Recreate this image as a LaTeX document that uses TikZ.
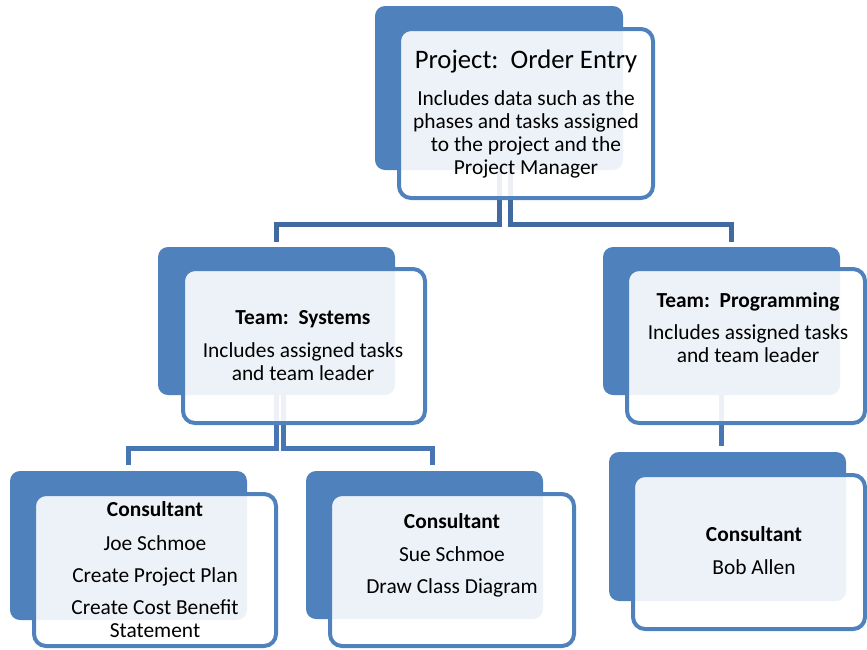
\documentclass[tikz,border=0pt]{standalone}
\usepackage{fontspec}
\setmainfont{Carlito}
\definecolor{accent}{RGB}{79,129,189}
\definecolor{connA}{RGB}{64,106,160}
\definecolor{connB}{RGB}{72,118,178}
\tikzset{
  backbox/.style={rectangle, rounded corners=10pt, fill=accent, draw=none,
    inner sep=0pt, outer sep=0pt, anchor=north west},
  frontbox/.style={rectangle, rounded corners=12pt, draw=accent, line width=4pt,
    fill=white, fill opacity=0.9, inner sep=0pt, outer sep=0pt, anchor=north west},
  txt/.style={align=center, inner sep=0pt, text=black,
    font=\fontsize{21.4}{23}\selectfont},
  connone/.style={draw=connA, line width=5pt},
  conntwo/.style={draw=connB, line width=5pt},
}
\begin{document}
\begin{tikzpicture}[x=1pt,y=-1pt]
\useasboundingbox (0,0) rectangle (867,649);
% back boxes
\node[backbox, minimum width=248pt, minimum height=164pt] (pb) at (375,6) {};
\node[backbox, minimum width=237pt, minimum height=148pt] (sb) at (158,247) {};
\node[backbox, minimum width=237pt, minimum height=148pt] (gb) at (603,247) {};
\node[backbox, minimum width=237pt, minimum height=149pt] (jb) at (10,471) {};
\node[backbox, minimum width=237pt, minimum height=148pt] (ub) at (306,471) {};
\node[backbox, minimum width=237pt, minimum height=149pt] (bb) at (609,452) {};
% connectors
\draw[connone, shorten >=5pt] (pb.south) -- ++(0,54) -| (sb.north);
\draw[connone, shorten >=5pt] ([xshift=11pt]pb.south) -- ++(0,54) -| ([xshift=10pt]gb.north);
\draw[conntwo, shorten >=6pt] (sb.south) -- ++(0,53) -| (jb.north);
\draw[conntwo, shorten >=6pt] ([xshift=7pt]sb.south) -- ++(0,53) -| ([xshift=7.5pt]ub.north);
\draw[conntwo, shorten >=6pt] (gb.south) -- (gb.south |- bb.north);
% front boxes
\node[frontbox, minimum width=254pt, minimum height=169pt] (pf) at (399,29) {};
\node[frontbox, minimum width=242pt, minimum height=154pt] (sf) at (183,269) {};
\node[frontbox, minimum width=238pt, minimum height=154pt] (gf) at (627,269) {};
\node[frontbox, minimum width=242pt, minimum height=152pt] (jf) at (34,494) {};
\node[frontbox, minimum width=244pt, minimum height=152pt] (uf) at (330,494) {};
\node[frontbox, minimum width=232pt, minimum height=154pt] (bf) at (633,475) {};
% texts
\node[txt] (pt) at (526,114) {{\fontsize{26.7}{30}\selectfont Project:\ \ Order Entry}\\[14pt]
  Includes data such as the\\phases and tasks assigned\\to the project and the\\Project Manager};
\node[txt] (st) at (303,346) {\textbf{Team:\ \ Systems}\\[10pt]Includes assigned tasks\\and team leader};
\node[txt] (gt) at (748,327.5) {\textbf{Team:\ \ Programming}\\[9pt]Includes assigned tasks\\and team leader};
\node[txt] (jt) at (155,569.5) {\textbf{Consultant}\\[11pt]Joe Schmoe\\[9pt]Create Project Plan\\[9pt]Create Cost Benefit\\Statement};
\node[txt] (ut) at (452,555.5) {\textbf{Consultant}\\[10pt]Sue Schmoe\\[9pt]Draw Class Diagram};
\node[txt] (bt) at (754,550.5) {\textbf{Consultant}\\[10pt]Bob Allen};
\end{tikzpicture}
\end{document}
